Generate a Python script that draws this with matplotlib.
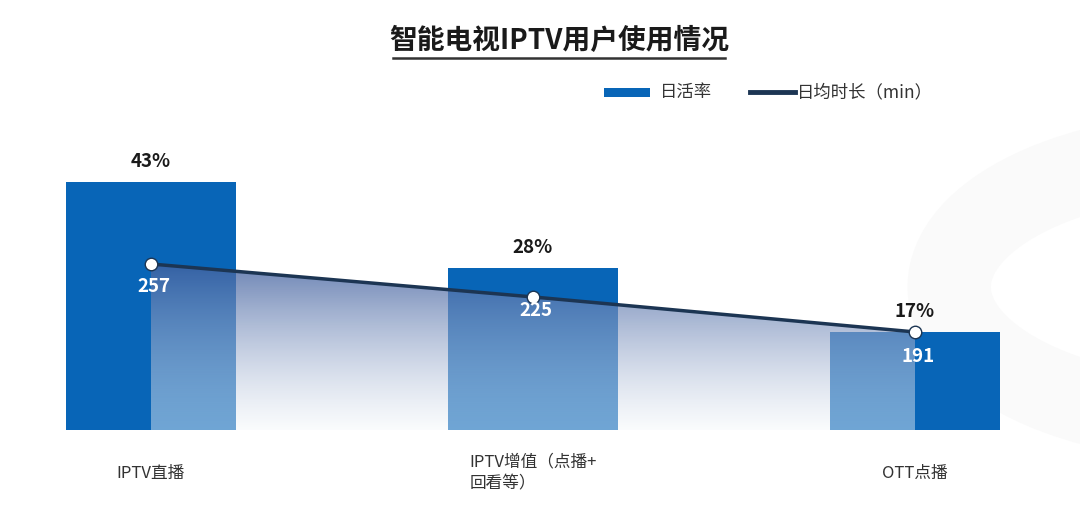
import numpy as np
import matplotlib
matplotlib.use("Agg")
import matplotlib.pyplot as plt
from matplotlib.patches import Rectangle, Circle
from matplotlib.lines import Line2D
from matplotlib.colors import to_rgb

plt.rcParams['font.family'] = ['Noto Sans CJK SC', 'DejaVu Sans']

# data
categories = ["IPTV直播", "IPTV增值（点播+\n回看等）", "OTT点播"]
daily_active = [43, 28, 17]          # 日活率 (%)
daily_minutes = [257, 225, 191]      # 日均时长 (min)
title = "智能电视IPTV用户使用情况"
legend_labels = ["日活率", "日均时长（min）"]

bar_color = "#0865b7"
line_color = "#1c3553"
text_color = "#333333"

W, H = 1080, 517
fig = plt.figure(figsize=(W / 100, H / 100), dpi=100)
fig.patch.set_facecolor("white")

# faint background decoration on the right
ring = Circle((1230 / W, 230 / H), 0.26, transform=fig.transFigure,
              facecolor="none", edgecolor="#fafafa", linewidth=60, zorder=0)
fig.add_artist(ring)

ax = fig.add_axes([40 / W, (H - 430) / H, 1000 / W, 290 / H])
ax.patch.set_alpha(0)
x = np.arange(len(categories))
ax.bar(x, daily_active, width=0.445, color=bar_color, zorder=2)
ax.set_xlim((40 - 151) / 382, (1040 - 151) / 382)
ax.set_ylim(0, 290 / 5.77)
for xi, v in zip(x, daily_active):
    ax.annotate(f"{v}%", (xi, v), xytext=(0, 8), textcoords="offset points",
                ha="center", va="bottom", fontsize=13.5, fontweight="bold",
                color="#1a1a1a")

ax2 = ax.twinx()
ymin2, ymax2 = 95.8, 377.4
ax2.set_ylim(ymin2, ymax2)

# gradient area under the line
poly = ax2.fill_between(x, daily_minutes, ymin2, facecolor="none",
                        edgecolor="none")
n = 256
t = np.linspace(0, 1, n)[:, None]
top = np.array(to_rgb("#41609f"))
bot = np.array([0.96, 0.973, 0.985])
grad = np.zeros((n, 1, 4))
grad[:, :, :3] = bot + t[..., None] * (top - bot)
grad[:, :, 3] = 0.44 + t * (0.78 - 0.44)
im = ax2.imshow(grad, extent=[x[0], x[-1], ymin2, max(daily_minutes)],
                origin="lower", aspect="auto", zorder=3)
im.set_clip_path(poly.get_paths()[0], transform=ax2.transData)
ax2.set_xlim(ax.get_xlim())
ax2.set_ylim(ymin2, ymax2)

ax2.plot(x, daily_minutes, color=line_color, lw=2.5, zorder=4,
         marker="o", markersize=9, markerfacecolor="white",
         markeredgecolor=line_color, markeredgewidth=1.0)
offsets = [-16, -10, -18]
for xi, v, off in zip(x, daily_minutes, offsets):
    ax2.annotate(str(v), (xi, v), xytext=(2, off), textcoords="offset points",
                 ha="center", va="center", fontsize=13.5, fontweight="bold",
                 color="white", zorder=5)

for a in (ax, ax2):
    for s in a.spines.values():
        s.set_visible(False)
    a.set_yticks([])
    a.tick_params(length=0)

ax.set_xticks(x)
ax.set_xticklabels([])
for xi, lab in zip(x, categories):
    ax.annotate(lab, (xi, 0), xytext=(0, -31), textcoords="offset points",
                ha="center", va="center", fontsize=12, color=text_color,
                multialignment="left", linespacing=1.35)

# title with underline
fig.text(559 / W, 1 - 41 / H, title, ha="center", va="center",
         fontsize=20, fontweight="bold", color="#1a1a1a")
fig.add_artist(Line2D([393 / W, 725 / W], [1 - 58 / H, 1 - 58 / H],
                      color="#333333", lw=1.8))

# legend
fig.add_artist(Rectangle((604 / W, 1 - 97 / H), 46 / W, 9 / H,
                         facecolor=bar_color, edgecolor="none",
                         transform=fig.transFigure))
fig.text(660 / W, 1 - 92 / H, legend_labels[0], ha="left", va="center",
         fontsize=12.5, color=text_color)
fig.add_artist(Line2D([750 / W, 795 / W], [1 - 92 / H, 1 - 92 / H],
                      color=line_color, lw=3.5))
fig.text(797 / W, 1 - 92 / H, legend_labels[1], ha="left", va="center",
         fontsize=12.5, color=text_color)

fig.savefig("out.png", dpi=100, facecolor=fig.get_facecolor())
